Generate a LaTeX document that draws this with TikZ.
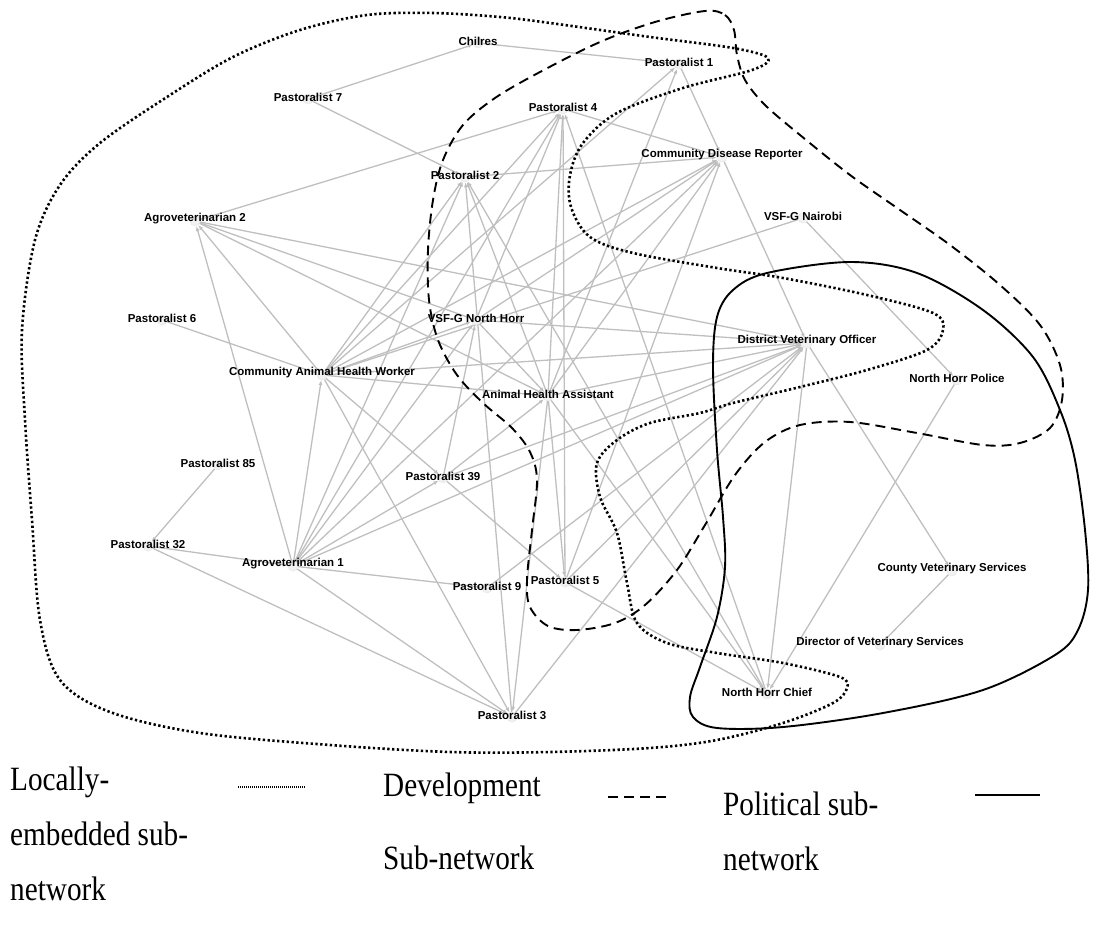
\documentclass[tikz,border=0pt]{standalone}
\usepackage{fontspec}
\setmainfont{Liberation Serif}
\newfontfamily\tagfont{Liberation Sans}
\newfontfamily\legendfont[FakeStretch=0.86]{Liberation Serif}
\usetikzlibrary{arrows.meta}
\pgfdeclarelayer{bg}
\pgfsetlayers{bg,main}

\begin{document}
\begin{tikzpicture}[x=1pt, y=-1pt,
    actor/.style={circle, draw=gray!22, fill=gray!10, minimum size=10pt, inner sep=0pt},
    tag/.style={font=\tagfont\bfseries\fontsize{11.5}{13}\selectfont, text=black, inner sep=0pt, yshift=2pt},
    tie/.style={draw=gray!50, line width=1.3pt, -{Latex[length=5pt, width=4pt]}},
    legend/.style={font=\legendfont\fontsize{34}{40}\selectfont, inner sep=0pt, anchor=base west}]
    \useasboundingbox (0,0) rectangle (1094,931);

    % actors
    \node [actor, label={[tag]center:Chilres}] (Chil) at (478,43) {};
    \node [actor, label={[tag]center:Pastoralist 1}] (P1) at (679,64) {};
    \node [actor, label={[tag]center:Pastoralist 7}] (P7) at (308,99) {};
    \node [actor, label={[tag]center:Pastoralist 4}] (P4) at (563,109) {};
    \node [actor, label={[tag]center:Community Disease Reporter}] (CDR) at (722,157) {};
    \node [actor, label={[tag]center:Pastoralist 2}] (P2) at (465,177) {};
    \node [actor, label={[tag]center:Agroveterinarian 2}] (AV2) at (195,221) {};
    \node [actor, label={[tag]center:VSF-G Nairobi}] (VN) at (803,218) {};
    \node [actor, label={[tag]center:Pastoralist 6}] (P6) at (162,320) {};
    \node [actor, label={[tag]center:VSF-G North Horr}] (VNH) at (476,320) {};
    \node [actor, label={[tag]center:District Veterinary Officer}] (DVO) at (807,343) {};
    \node [actor, label={[tag]center:Community Animal Health Worker}] (CAHW) at (322,375) {};
    \node [actor, label={[tag]center:North Horr Police}] (NHP) at (957,380) {};
    \node [actor, label={[tag]center:Animal Health Assistant}] (AHA) at (548,396) {};
    \node [actor, label={[tag]center:Pastoralist 85}] (P85) at (218,465) {};
    \node [actor, label={[tag]center:Pastoralist 39}] (P39) at (443,478) {};
    \node [actor, label={[tag]center:Pastoralist 32}] (P32) at (148,546) {};
    \node [actor, label={[tag]center:Agroveterinarian 1}] (AV1) at (293,566) {};
    \node [actor, label={[tag]center:Pastoralist 9}] (P9) at (487,588) {};
    \node [actor, label={[tag]center:Pastoralist 5}] (P5) at (565,582) {};
    \node [actor, label={[tag]center:County Veterinary Services}] (CVS) at (952,571) {};
    \node [actor, label={[tag]center:Director of Veterinary Services}] (DVS) at (880,645) {};
    \node [actor, label={[tag]center:North Horr Chief}] (NHC) at (767,694) {};
    \node [actor, label={[tag]center:Pastoralist 3}] (P3) at (512,717) {};

    \begin{pgfonlayer}{bg}
    \draw [tie] (P7) -- (Chil);
    \draw [tie] (Chil) -- (P1);
    \draw [tie] (P7) -- (P2);
    \draw [tie] (AV2) -- (P4);
    \draw [tie] (P4) -- (CDR);
    \draw [tie] (P2) -- (CDR);
    \draw [tie] (P1) -- (CDR);
    \draw [tie] (CAHW) -- (P1);
    \draw [tie] (AHA) -- (P1);
    \draw [tie] (P6) -- (CAHW);
    \draw [tie] (CAHW) -- (AV2);
    \draw [tie] (AV1) -- (AV2);
    \draw [tie] (AV2) -- (DVO);
    \draw [tie] (AV2) -- (VNH);
    \draw [tie] (AV2) -- (AHA);
    \draw [tie] (CAHW) -- (P4);
    \draw [tie] (CAHW) -- (P2);
    \draw [tie] (CAHW) -- (CDR);
    \draw [tie] (CAHW) -- (VNH);
    \draw [tie] (CAHW) -- (DVO);
    \draw [tie] (CAHW) -- (AHA);
    \draw [tie] (AV1) -- (CAHW);
    \draw [tie] (CAHW) -- (P3);
    \draw [tie] (CAHW) -- (P39);
    \draw [tie] (P39) -- (P5);
    \draw [tie] (VN) -- (CAHW);
    \draw [tie] (VN) -- (NHP);
    \draw [tie] (CDR) -- (DVO);
    \draw [tie] (VNH) -- (CDR);
    \draw [tie] (AHA) -- (CDR);
    \draw [tie] (P5) -- (CDR);
    \draw [tie] (AV1) -- (CDR);
    \draw [tie] (AV1) -- (P4);
    \draw [tie] (VNH) -- (P4);
    \draw [tie] (AHA) -- (P4);
    \draw [tie] (P5) -- (P4);
    \draw [tie] (NHC) -- (P4);
    \draw [tie] (AHA) -- (P2);
    \draw [tie] (P3) -- (P2);
    \draw [tie] (NHC) -- (P2);
    \draw [tie] (AV1) -- (P2);
    \draw [tie] (VNH) -- (DVO);
    \draw [tie] (VNH) -- (AHA);
    \draw [tie] (P39) -- (VNH);
    \draw [tie] (AV1) -- (VNH);
    \draw [tie] (AV1) -- (P39);
    \draw [tie] (AV1) -- (DVO);
    \draw [tie] (AV1) -- (P9);
    \draw [tie] (AV1) -- (P3);
    \draw [tie] (P32) -- (AV1);
    \draw [tie] (P85) -- (P32);
    \draw [tie] (P32) -- (P3);
    \draw [tie] (P39) -- (AHA);
    \draw [tie] (P39) -- (DVO);
    \draw [tie] (AHA) -- (DVO);
    \draw [tie] (AHA) -- (P3);
    \draw [tie] (AHA) -- (P5);
    \draw [tie] (AHA) -- (NHC);
    \draw [tie] (P5) -- (DVO);
    \draw [tie] (P5) -- (NHC);
    \draw [tie] (P3) -- (DVO);
    \draw [tie] (P9) -- (DVO);
    \draw [tie] (DVO) -- (NHC);
    \draw [tie] (DVO) -- (CVS);
    \draw [tie] (NHP) -- (NHC);
    \draw [tie] (CVS) -- (DVS);
    \end{pgfonlayer}

    % sub-networks
    \draw [line width=2.6pt, dash pattern=on 2.3pt off 2.5pt] plot [smooth cycle, tension=0.55] coordinates {
        (100,143) (167,97) (233,57) (300,30) (367,15) (433,13) (500,17) (550,23) (650,37) (733,48) (768,58)
        (752,70) (683,88) (617,113) (583,143) (570,175) (571,207) (590,237) (633,253) (717,268) (783,278)
        (867,295) (933,313) (943,330) (927,350) (867,370) (800,387) (733,403) (700,413) (650,423) (617,440)
        (597,463) (600,497) (617,533) (627,583) (637,623) (667,643) (717,653) (783,663) (840,677) (847,688)
        (833,703) (783,723) (717,740) (650,748) (550,752) (450,752) (330,745) (200,733) (110,712) (60,680)
        (40,620) (32,520) (25,420) (22,330) (35,240) (60,185)};
    \draw [line width=1.9pt, dash pattern=on 10pt off 6pt] plot [smooth cycle, tension=0.55] coordinates {
        (705,11) (725,15) (734,30) (737,55) (745,80) (765,105) (800,135) (850,175) (900,210) (950,245)
        (1000,285) (1040,325) (1060,365) (1062,400) (1050,428) (1020,443) (983,445) (917,433) (850,422)
        (800,425) (765,442) (735,475) (705,525) (677,570) (645,605) (615,623) (577,630) (548,626) (530,607)
        (527,580) (532,530) (537,480) (530,452) (512,428) (483,403) (457,375) (438,340) (429,300) (428,250)
        (433,200) (443,160) (463,125) (495,98) (540,72) (600,42) (655,22)};
    \draw [line width=1.9pt] plot [smooth cycle, tension=0.55] coordinates {
        (717,450) (713,367) (717,317) (733,290) (767,273) (850,262) (917,273) (983,310) (1033,357)
        (1060,410) (1075,460) (1085,530) (1088,590) (1078,630) (1055,655) (983,690) (883,713) (783,727)
        (717,728) (693,717) (690,697) (700,667) (717,617) (725,567) (723,517)};

    % legend
    \node [legend] (loc1) at (10,790) {Locally-};
    \node [legend] (loc2) at (10,845) {embedded sub-};
    \node [legend] (loc3) at (10,900) {network};
    \node [legend] (dev1) at (383,796) {Development};
    \node [legend] (dev2) at (383,869) {Sub-network};
    \node [legend] (pol1) at (723,815) {Political sub-};
    \node [legend] (pol2) at (723,870) {network};
    \coordinate (dotA) at (238,787);
    \coordinate (dotB) at (305,787);
    \coordinate (dashA) at (608,797);
    \coordinate (dashB) at (668,797);
    \coordinate (solA) at (975,795);
    \coordinate (solB) at (1040,795);
    \draw [line width=1.2pt, dash pattern=on 0.8pt off 1.2pt] (dotA) -- (dotB);
    \draw [line width=2pt, dash pattern=on 10pt off 6pt] (dashA) -- (dashB);
    \draw [line width=2.2pt] (solA) -- (solB);
\end{tikzpicture}
\end{document}
